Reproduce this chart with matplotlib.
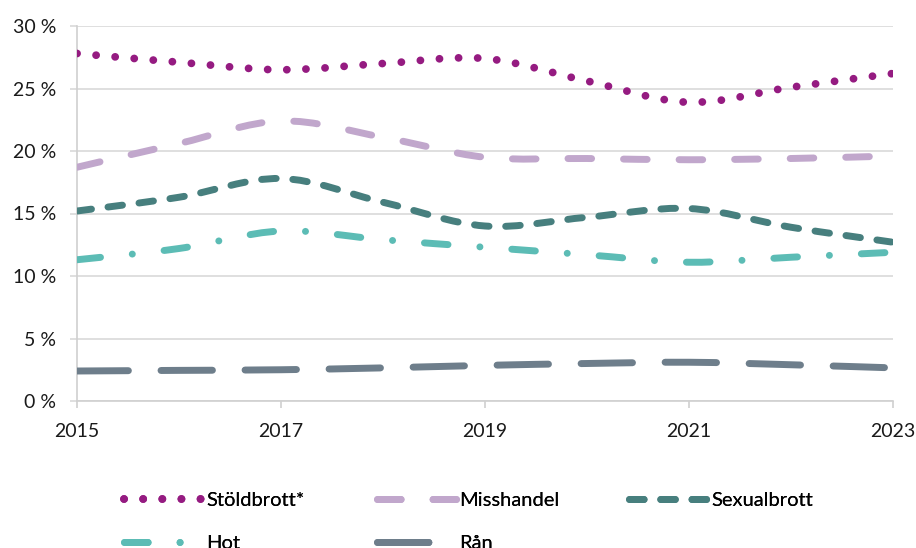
import matplotlib
matplotlib.use("Agg")
import matplotlib.pyplot as plt
from matplotlib.path import Path
from matplotlib.patches import PathPatch
from matplotlib.lines import Line2D
import numpy as np

plt.rcParams['font.family'] = ['Lato', 'DejaVu Sans']

years = [2015, 2016, 2017, 2018, 2019, 2020, 2021, 2022, 2023]
stold = [27.8, 27.1, 26.5, 27.0, 27.4, 25.6, 23.9, 25.1, 26.2]
misshandel = [18.7, 20.6, 22.4, 21.1, 19.5, 19.4, 19.3, 19.4, 19.6]
sexual = [15.2, 16.3, 17.8, 15.9, 14.0, 14.7, 15.4, 13.9, 12.7]
hot = [11.3, 12.2, 13.6, 12.9, 12.3, 11.7, 11.1, 11.5, 11.9]
ran = [2.4, 2.45, 2.5, 2.65, 2.85, 3.0, 3.1, 2.9, 2.65]
labels = ["Stöldbrott*", "Misshandel", "Sexualbrott", "Hot", "Rån"]
yticks = [0, 5, 10, 15, 20, 25, 30]
xticks = [2015, 2017, 2019, 2021, 2023]

colors = ["#951B81", "#C1A7CC", "#477F7E", "#5CBCB5", "#6E7E8B"]
widths = [5.6, 5.0, 5.0, 5.0, 5.0]
dashes = [(0.01, 2.45), (3.4, 4.6), (2.1, 2.4), (3.4, 4.6, 0.01, 4.6), (7.4, 4.7)]


def smooth_path(x, y):
    # Excel-like smoothed line: cubic bezier through the points
    x = np.asarray(x, float)
    y = np.asarray(y, float)
    n = len(x)
    verts = [(x[0], y[0])]
    codes = [Path.MOVETO]
    for i in range(n - 1):
        i0 = max(i - 1, 0)
        i3 = min(i + 2, n - 1)
        c1 = (x[i] + (x[i + 1] - x[i0]) / 6, y[i] + (y[i + 1] - y[i0]) / 6)
        c2 = (x[i + 1] - (x[i3] - x[i]) / 6, y[i + 1] - (y[i3] - y[i]) / 6)
        verts += [c1, c2, (x[i + 1], y[i + 1])]
        codes += [Path.CURVE4] * 3
    return Path(verts, codes)


fig = plt.figure(figsize=(9.16, 5.48), dpi=100)
ax = fig.add_axes([77 / 916, 1 - 401 / 548, (893 - 77) / 916, (401 - 26) / 548])

series = [stold, misshandel, sexual, hot, ran]
handles = []
for vals, c, w, d, lab in zip(series, colors, widths, dashes, labels):
    patch = PathPatch(smooth_path(years, vals), facecolor="none", edgecolor=c,
                      lw=w, linestyle=(0, d), capstyle="round", joinstyle="round",
                      transform=ax.transData, zorder=3)
    ax.add_patch(patch)
    handles.append(Line2D([], [], color=c, lw=w, dashes=d,
                          dash_capstyle="round", label=lab))

ax.set_xlim(2015, 2023)
ax.set_ylim(0, 30)
ax.set_xticks(xticks)
ax.set_xticklabels([str(v) for v in xticks])
ax.set_yticks(yticks)
ax.set_yticklabels([f"{v} %" for v in yticks])
ax.yaxis.grid(True, color="#D9D9D9", lw=1.2)
ax.set_axisbelow(True)
for s in ["top", "right"]:
    ax.spines[s].set_visible(False)
for s in ["left", "bottom"]:
    ax.spines[s].set_color("#D0D0D0")
    ax.spines[s].set_linewidth(1.2)
ax.tick_params(axis="y", length=5, color="#D9D9D9", width=1.2, pad=10,
               labelsize=14, labelcolor="#1a1a1a")
ax.tick_params(axis="x", length=5, color="#D0D0D0", width=1.2, pad=11,
               labelsize=14, labelcolor="#1a1a1a")

# legend in three columns, placed like the original
cols = [([0, 3], 124), ([1, 4], 377), ([2], 629)]
for idx, xpx in cols:
    leg = fig.legend([handles[i] for i in idx], [labels[i] for i in idx],
                     loc="upper left", bbox_to_anchor=(xpx / 916, 1 - 492 / 548),
                     frameon=False, fontsize=14.5, handlelength=3.9,
                     handletextpad=0.2, borderpad=0, borderaxespad=0,
                     labelspacing=1.3)
    fig.add_artist(leg)

fig.savefig("out.png", dpi=100)
